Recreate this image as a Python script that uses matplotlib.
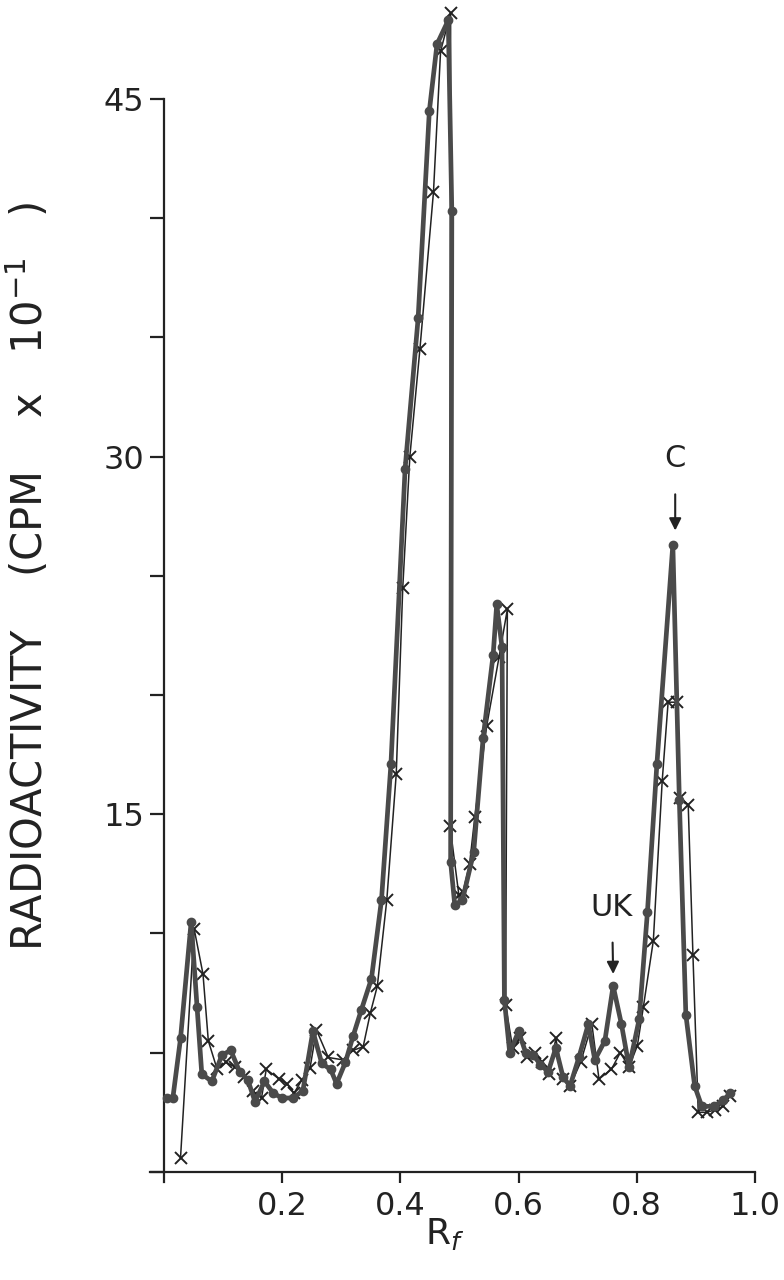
import numpy as np
import matplotlib.pyplot as plt

# series 1: filled circles, heavy line
rf_dot = [0.005, 0.015, 0.028, 0.046, 0.056, 0.064, 0.081, 0.098, 0.113, 0.128,
          0.142, 0.154, 0.170, 0.185, 0.200, 0.218, 0.235, 0.252, 0.267, 0.282,
          0.292, 0.307, 0.320, 0.334, 0.351, 0.368, 0.384, 0.408, 0.430, 0.449,
          0.462, 0.481, 0.487, 0.485, 0.492, 0.505, 0.524, 0.540, 0.557, 0.563,
          0.572, 0.576, 0.585, 0.600, 0.612, 0.625, 0.637, 0.650, 0.663, 0.675,
          0.687, 0.702, 0.718, 0.729, 0.746, 0.760, 0.774, 0.787, 0.804, 0.818,
          0.834, 0.861, 0.872, 0.883, 0.898, 0.910, 0.930, 0.946, 0.958]
cpm_dot = [3.1, 3.1, 5.6, 10.5, 6.9, 4.1, 3.8, 4.9, 5.1, 4.2,
           3.85, 2.95, 3.8, 3.3, 3.1, 3.1, 3.4, 5.9, 4.55, 4.3,
           3.7, 4.6, 5.7, 6.8, 8.1, 11.4, 17.1, 29.5, 35.8, 44.5,
           47.3, 48.3, 40.3, 13.0, 11.2, 11.4, 13.4, 18.2, 21.7, 23.8,
           22.0, 7.2, 5.0, 5.9, 5.0, 4.9, 4.5, 4.2, 5.2, 4.0,
           3.6, 4.8, 6.2, 4.7, 5.5, 7.8, 6.2, 4.4, 6.4, 10.9,
           17.1, 26.3, 15.6, 6.6, 3.6, 2.75, 2.75, 3.0, 3.3]

# series 2: crosses, thin line
rf_x = [0.028, 0.051, 0.066, 0.075, 0.090, 0.105, 0.120, 0.135, 0.150, 0.165,
        0.173, 0.195, 0.208, 0.220, 0.233, 0.247, 0.258, 0.278, 0.303, 0.320,
        0.337, 0.349, 0.361, 0.377, 0.393, 0.404, 0.416, 0.433, 0.456, 0.468,
        0.485, 0.484, 0.499, 0.506, 0.517, 0.526, 0.546, 0.567, 0.581, 0.578,
        0.590, 0.603, 0.615, 0.628, 0.640, 0.652, 0.663, 0.675, 0.687, 0.705,
        0.724, 0.736, 0.757, 0.772, 0.787, 0.801, 0.811, 0.828, 0.843, 0.853,
        0.868, 0.873, 0.887, 0.895, 0.904, 0.918, 0.932, 0.946, 0.958]
cpm_x = [0.6, 10.2, 8.3, 5.5, 4.3, 4.6, 4.4, 4.0, 3.4, 3.1,
         4.3, 3.9, 3.7, 3.3, 3.85, 4.35, 5.95, 4.8, 4.7, 5.1,
         5.25, 6.65, 7.8, 11.4, 16.7, 24.5, 30.0, 34.5, 41.1, 47.0,
         48.6, 14.5, 11.6, 11.75, 12.9, 14.9, 18.7, 21.6, 23.6, 7.0,
         5.2, 5.6, 4.8, 5.0, 4.6, 4.1, 5.6, 3.9, 3.6, 4.6,
         6.2, 3.9, 4.3, 5.0, 4.4, 5.3, 6.9, 9.7, 16.4, 19.7,
         19.7, 15.7, 15.4, 9.1, 2.5, 2.5, 2.6, 2.75, 3.2]

yticks = [0, 5, 10, 15, 20, 25, 30, 35, 40, 45]
ylabels = ["", "", "", "15", "", "", "30", "", "", "45"]
xticks = [0.2, 0.4, 0.6, 0.8, 1.0]
xlabels = ["0.2", "0.4", "0.6", "0.8", "1.0"]

ink = "#4a4a4a"
dark = "#222222"
plt.rcParams["font.family"] = ["DejaVu Sans"]

fig = plt.figure(figsize=(7.84, 12.8), dpi=100)
ax = fig.add_axes([0.1913, 0.0766, 0.7717, 0.8461])

ax.plot(rf_x, cpm_x, "-", color=dark, lw=1.1, marker="x", ms=8, mew=1.4,
        clip_on=False, zorder=2)
ax.plot(rf_dot, cpm_dot, "-", color=ink, lw=3.4, marker="o", ms=6,
        clip_on=False, zorder=3)

# axes cross a little past the origin, as in the drawing
ax.set_xlim(-0.0237, 1.0)
ax.set_ylim(-0.42, 45)
ax.spines["left"].set_position(("data", 0))
ax.spines["bottom"].set_position(("data", 0))
ax.set_xticks(xticks)
ax.set_xticklabels(xlabels)
ax.set_yticks(yticks)
ax.set_yticklabels(ylabels)
ax.spines["top"].set_visible(False)
ax.spines["right"].set_visible(False)
for s in ["left", "bottom"]:
    ax.spines[s].set_linewidth(1.6)
    ax.spines[s].set_color(dark)
ax.tick_params(axis="y", direction="out", length=10, width=1.6, pad=4,
               labelsize=23, colors=dark)
ax.tick_params(axis="x", direction="out", length=8, width=1.6, pad=6,
               labelsize=23, colors=dark)

fig.text(0.5675, 0.036, "R$_f$", fontsize=26, color=dark, ha="center",
         va="center")
fig.text(0.036, 0.550, "RADIOACTIVITY    (CPM    x   10$^{-1}$   )",
         fontsize=30, color=dark, rotation=90, ha="center", va="center")

ax.annotate("C", xy=(0.865, 26.9), xytext=(0.865, 29.9), ha="center",
            va="center", fontsize=22, color=dark,
            arrowprops=dict(arrowstyle="-|>", color=dark, lw=1.5,
                            mutation_scale=18, shrinkA=13, shrinkB=0))
ax.annotate("UK", xy=(0.760, 8.3), xytext=(0.758, 11.1), ha="center",
            va="center", fontsize=22, color=dark,
            arrowprops=dict(arrowstyle="-|>", color=dark, lw=1.5,
                            mutation_scale=18, shrinkA=13, shrinkB=0))

fig.savefig("out.png", dpi=100)
